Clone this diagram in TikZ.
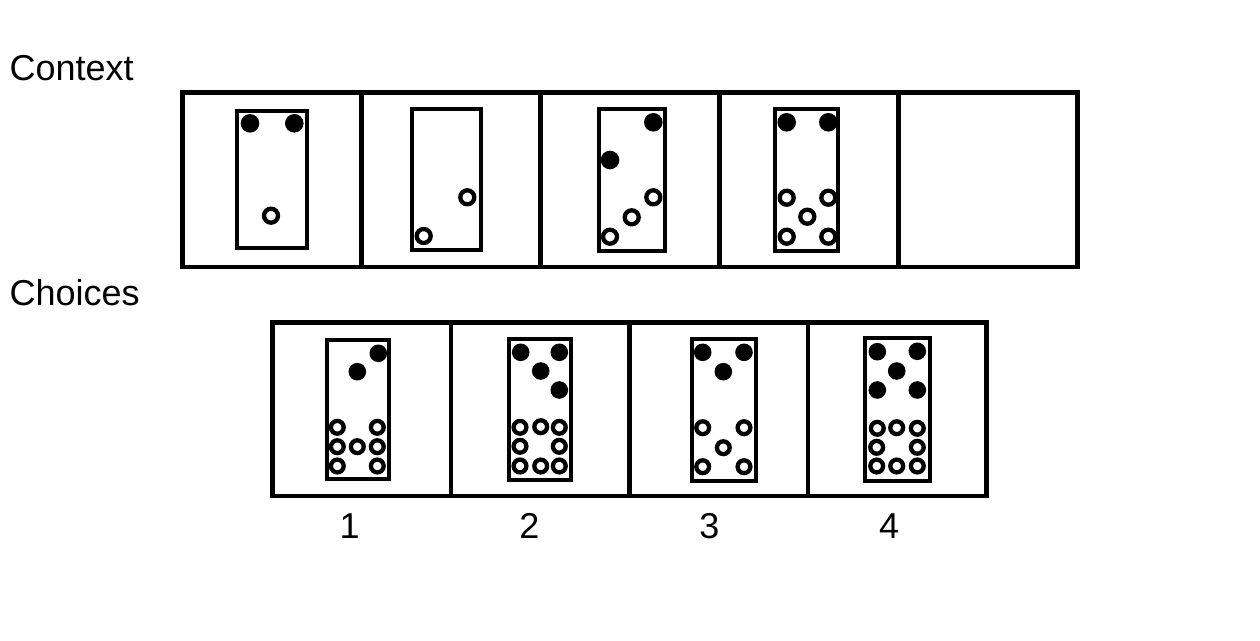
\documentclass[tikz,border=0pt]{standalone}
\usepackage{fontspec}
\setmainfont{Liberation Sans}
\begin{document}
\begin{tikzpicture}[x=1pt,y=-1pt,
  frame/.style={line width=4.8pt},
  dom/.style={line width=4pt},
  fpip/.style={fill=black},
  hpip/.style={draw=black,line width=4.3pt,fill=white},
  lbl/.style={font=\fontsize{36}{42}\selectfont,inner sep=0pt}]
\useasboundingbox[fill=white] (0,0) rectangle (1260,640);
% labels
\node[lbl,anchor=base west] (ctx) at (9.5,80) {Context};
\node[lbl,anchor=base west] (cho) at (9.5,305) {Choices};
\node[lbl,anchor=base] (n1) at (349.6,538) {1};
\node[lbl,anchor=base] (n2) at (529.5,538) {2};
\node[lbl,anchor=base] (n3) at (709.5,538) {3};
\node[lbl,anchor=base] (n4) at (889,538) {4};
% context frame
\draw[frame] (182.5,92.5) rectangle (1077.5,267);
\foreach \x in {361.5,540.5,719.5,898.5} \draw[frame] (\x,92.5) -- (\x,267);
% choices frame
\draw[frame] (272.5,322.5) rectangle (986.5,496);
\foreach \x in {451,629.5,808} \draw[frame] (\x,322.5) -- (\x,496);
% context dominoes
\draw[dom] (236.8,110.8) rectangle (306.5,247.5);
\draw[dom] (412,108.7) rectangle (481.3,249.7);
\draw[dom] (598.7,109.3) rectangle (665.3,250.7);
\draw[dom] (775.3,108.7) rectangle (838,251.3);
% choice dominoes
\draw[dom] (327,340.3) rectangle (388.7,479);
\draw[dom] (509.3,339.3) rectangle (571.3,479.7);
\draw[dom] (692,338.7) rectangle (755.7,480.7);
\draw[dom] (865.3,338) rectangle (929.7,481.3);
% filled pips
\foreach \p in {(250,123.3),(294.3,123.3),
  (653.3,122.3),(610,160),
  (786.7,122.3),(828.3,122.3)}
  \fill[fpip] \p circle[radius=9.3];
\foreach \p in {(378.3,353.3),(357.3,371.7),
  (520.7,352.3),(559.3,352.3),(540.7,371),(559.3,390),
  (702.7,352.3),(744,352.3),(723.3,371.7),
  (877.3,351.7),(917.3,351.3),(896.7,371),(877.3,390),(917.3,390)}
  \fill[fpip] \p circle[radius=8.8];
% hollow pips (context)
\foreach \p in {(271,215.7),
  (467.3,197.3),(423.7,236),
  (653.3,197.3),(631.7,217.3),(610,236.7),
  (786.7,197.7),(828.3,197.7),(807.3,216.7),(786.7,236.7),(828.3,236.7)}
  \draw[hpip] \p circle[radius=7];
% hollow pips (choices)
\foreach \p in {(337.3,427.3),(377.3,427.3),(337.3,446.7),(357.3,446.7),(377.3,446.7),(337.3,466),(377.3,466),
  (520,427.3),(540.7,426.7),(559.3,427.3),(520,446.3),(559.3,446.3),(520,466),(540.7,466),(559.3,466),
  (702.7,427.7),(744,427.7),(723.3,447.7),(702.7,466.7),(744,466.7),
  (877.3,428.3),(896.7,427.7),(917.3,428.3),(876.7,447.3),(917.3,447.3),(876.7,466),(896.7,466),(917.3,466)}
  \draw[hpip] \p circle[radius=6.4];
\end{tikzpicture}
\end{document}
